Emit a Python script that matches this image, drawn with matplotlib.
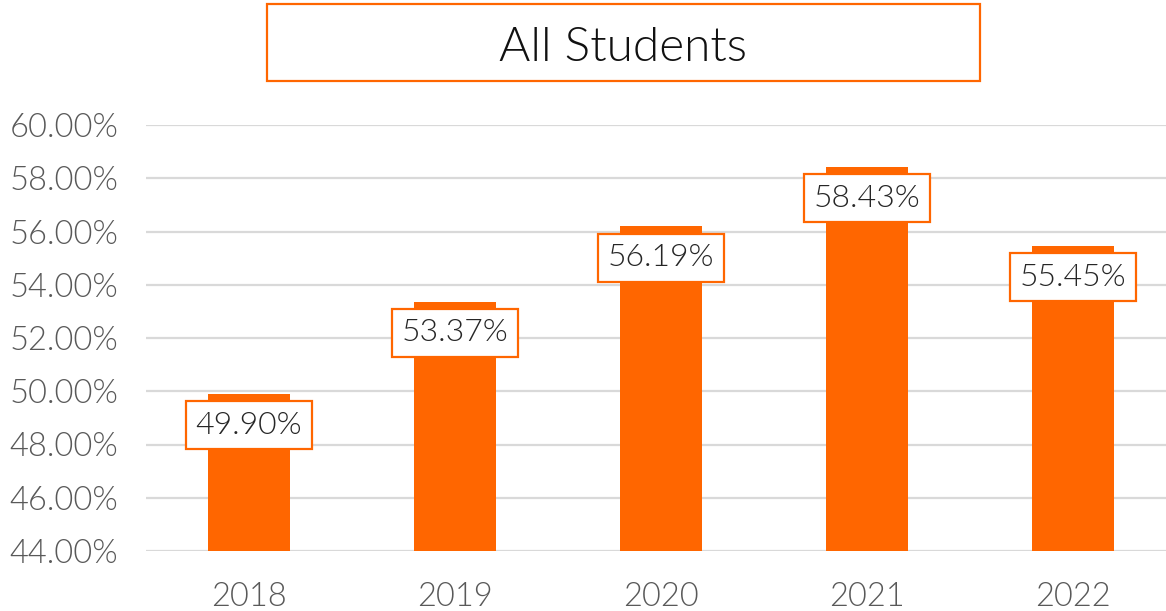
import matplotlib.pyplot as plt
from matplotlib.patches import Rectangle
from matplotlib.ticker import FuncFormatter

years = ["2018", "2019", "2020", "2021", "2022"]
rates = [49.90, 53.37, 56.19, 58.43, 55.45]
title = "All Students"

orange = "#FF6600"
grey_text = "#595959"

plt.rcParams['font.family'] = ['Lato', 'DejaVu Sans']
plt.rcParams['font.weight'] = 300  # Lato Light ('light' maps to 200 -> Thin)

fig = plt.figure(figsize=(11.66, 6.11), dpi=100)
ax = fig.add_axes([146 / 1166, 60 / 611, 1030 / 1166, 426 / 611])

x = range(len(years))
ax.bar(x, [r - 44 for r in rates], bottom=44, width=0.40, color=orange, zorder=3)

ax.set_xlim(-0.5, len(years) - 0.5)
ax.set_ylim(44, 60)
ax.set_yticks(range(44, 61, 2))
ax.yaxis.set_major_formatter(FuncFormatter(lambda v, p: f"{v:.2f}%"))
ax.set_xticks(list(x))
ax.set_xticklabels(years)
ax.tick_params(axis='both', length=0, labelsize=23.5, labelcolor=grey_text)
ax.tick_params(axis='y', pad=20)
ax.tick_params(axis='x', pad=22)
ax.grid(axis='y', color='#d9d9d9', linewidth=1.6, zorder=0)
for s in ax.spines.values():
    s.set_visible(False)

# data labels, "inside end" like excel
for i, r in zip(x, rates):
    ax.annotate(f"{r:.2f}%", (i, r), xytext=(0, -22.5), textcoords='offset points',
                ha='center', va='center', fontsize=23, color='#262626', zorder=5,
                bbox=dict(boxstyle='square,pad=0.3', fc='white', ec=orange, lw=1.6))

# title box
fig.patches.append(Rectangle((267 / 1166, 530 / 611), 713 / 1166, 77 / 611,
                             transform=fig.transFigure, fill=False,
                             edgecolor=orange, linewidth=1.6))
fig.text(623 / 1166, 563 / 611, title, ha='center', va='center',
         fontsize=34.5, color='#111111')

fig.savefig("out.png", dpi=100)
